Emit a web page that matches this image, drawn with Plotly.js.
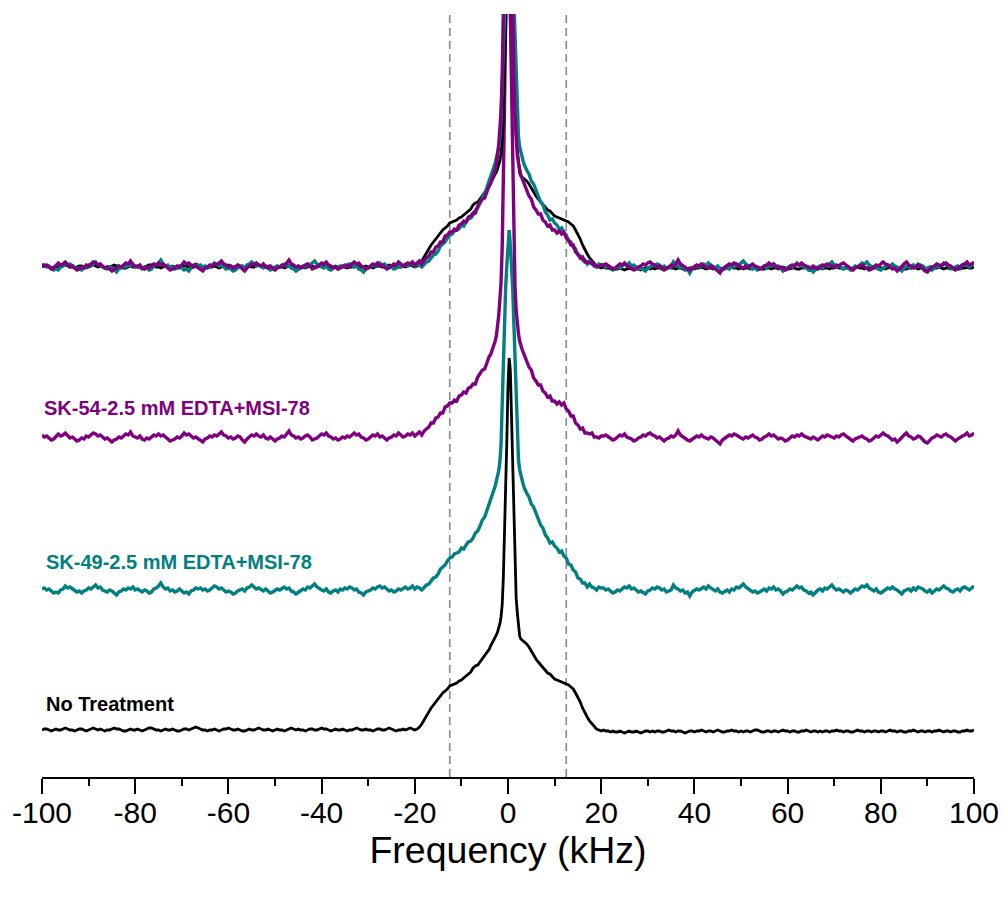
<!DOCTYPE html>
<html>
<head>
<meta charset="utf-8">
<script src="https://cdn.plot.ly/plotly-3.0.1.min.js"></script>
<style>
html,body{margin:0;padding:0;background:#fff;}
#chart{width:1004px;height:897px;}
</style>
</head>
<body>
<div id="chart"></div>
<script>
// ---- frequency grid (kHz) ----
var freqWingL = [
-100,-99.5,-99,-98.5,-98,-97.5,-97,-96.5,-96,-95.5,-95,-94.5,-94,-93.5,-93,-92.5,-92,-91.5,-91,-90.5,
-90,-89.5,-89,-88.5,-88,-87.5,-87,-86.5,-86,-85.5,-85,-84.5,-84,-83.5,-83,-82.5,-82,-81.5,-81,-80.5,
-80,-79.5,-79,-78.5,-78,-77.5,-77,-76.5,-76,-75.5,-75,-74.5,-74,-73.5,-73,-72.5,-72,-71.5,-71,-70.5,
-70,-69.5,-69,-68.5,-68,-67.5,-67,-66.5,-66,-65.5,-65,-64.5,-64,-63.5,-63,-62.5,-62,-61.5,-61,-60.5,
-60,-59.5,-59,-58.5,-58,-57.5,-57,-56.5,-56,-55.5,-55,-54.5,-54,-53.5,-53,-52.5,-52,-51.5,-51,-50.5,
-50,-49.5,-49,-48.5,-48,-47.5,-47,-46.5,-46,-45.5,-45,-44.5,-44,-43.5,-43,-42.5,-42,-41.5,-41,-40.5,
-40,-39.5,-39,-38.5,-38,-37.5,-37,-36.5,-36,-35.5,-35,-34.5,-34,-33.5,-33,-32.5,-32,-31.5,-31,-30.5,
-30,-29.5,-29,-28.5,-28,-27.5,-27,-26.5,-26,-25.5,-25,-24.5,-24,-23.5,-23,-22.5,-22,-21.5,-21,-20.5];
var freqShoulderL = [-20,-19.5,-19,-18.5,-18,-17.5,-17,-16.5,-16,-15.5,-15,-14.5,-14,-13.5,-13,-12.5,-12,-11.5,-11,-10.5,-10,-9.5,-9,-8.5,-8,-7.5,-7,-6.5,-6,-5.5,-5,-4.5,-4];
var freqCenter = [-3.75,-3.5,-3.25,-3,-2.75,-2.5,-2.25,-2,-1.75,-1.5,-1.25,-1,-0.75,-0.5,-0.25,0,0.25,0.5,0.75,1,1.25,1.5,1.75,2,2.25,2.5,2.75,3,3.25,3.5,3.75];
var freqShoulderR = [4,4.5,5,5.5,6,6.5,7,7.5,8,8.5,9,9.5,10,10.5,11,11.5,12,12.5,13,13.5,14,14.5,15,15.5,16,16.5,17,17.5,18,18.5,19,19.5,20];
var freqWingR = [
20.5,21,21.5,22,22.5,23,23.5,24,24.5,25,25.5,26,26.5,27,27.5,28,28.5,29,29.5,30,
30.5,31,31.5,32,32.5,33,33.5,34,34.5,35,35.5,36,36.5,37,37.5,38,38.5,39,39.5,40,
40.5,41,41.5,42,42.5,43,43.5,44,44.5,45,45.5,46,46.5,47,47.5,48,48.5,49,49.5,50,
50.5,51,51.5,52,52.5,53,53.5,54,54.5,55,55.5,56,56.5,57,57.5,58,58.5,59,59.5,60,
60.5,61,61.5,62,62.5,63,63.5,64,64.5,65,65.5,66,66.5,67,67.5,68,68.5,69,69.5,70,
70.5,71,71.5,72,72.5,73,73.5,74,74.5,75,75.5,76,76.5,77,77.5,78,78.5,79,79.5,80,
80.5,81,81.5,82,82.5,83,83.5,84,84.5,85,85.5,86,86.5,87,87.5,88,88.5,89,89.5,90,
90.5,91,91.5,92,92.5,93,93.5,94,94.5,95,95.5,96,96.5,97,97.5,98,98.5,99,99.5,100];

// ---- No Treatment (black) intensities ----
var noTreatWingL = [
0,1,1,0,-1,0,1,0,0,1,2,1,0,0,-1,0,1,1,0,-1,
0,1,2,1,0,1,0,-1,0,0,1,2,1,1,0,-1,-1,0,1,0,
0,1,0,-1,0,1,2,2,1,0,0,-1,0,1,0,0,1,0,-1,-1,
0,1,1,0,1,2,3,2,1,0,0,-1,0,0,1,0,-1,0,1,1,
2,1,0,0,1,0,-1,-1,0,1,0,0,1,2,1,0,0,1,0,-1,
0,1,0,0,-1,0,1,2,1,0,1,0,0,-1,0,1,1,0,0,1,
2,1,1,0,-1,0,1,0,0,1,0,-1,0,0,1,2,1,0,0,1,
0,0,-1,0,1,1,0,0,1,2,1,0,-1,0,0,1,0,1,2,1];
var noTreatShoulderL = [0,1,3,6,10,15,19,22,25,28,31,35,37,39,41,44,45,46,47,49,50,52,54,56,58,62,64,65,68,72,75,78,81];
var noTreatCenter = [84,86,88,90,92,95,98,102,106,113,125,152,192,240,290,345,372,360,310,258,208,165,132,117,105,94,91,90,89,88,87];
var noTreatShoulderR = [86,83,79,74,71,68,65,63,60,57,56,53,51,50,49,48,47,46,45,43,41,37,33,28,22,17,13,9,6,3,1,0,-1];
var noTreatWingR = [
0,-1,-1,-2,-1,-2,-2,-1,-2,-3,-2,-1,-2,-2,-1,-2,-3,-2,-1,-1,
-2,-1,-2,-1,-1,-2,-2,-1,0,-1,-1,-2,-1,-1,-2,-3,-2,-1,-1,-2,
-1,-1,0,-1,-2,-1,-1,-2,-1,0,-1,-2,-2,-1,-1,0,-1,-1,-2,-1,
-2,-1,-1,-2,-1,0,0,-1,-2,-2,-1,-1,-2,-1,-1,-2,-1,0,-1,-1,
-2,-1,-1,-2,-2,-1,-1,0,-1,-2,-1,-1,-2,-1,-2,-1,-1,-2,-1,-1,
0,-1,-1,-2,-1,-1,-2,-2,-1,0,-1,-1,-2,-1,-1,-2,-1,-1,-2,-1,
-1,-2,-1,0,-1,-1,-2,-1,-1,-2,-2,-1,-1,0,-1,-2,-1,-1,-2,-1,
-1,-2,-1,-1,0,-1,-2,-1,-1,-2,-1,-1,-2,-2,-1,-1,0,-1,-1,0];

// ---- SK-49 (teal) intensities ----
var sk49WingL = [
1,2,0,1,-1,-3,-2,-3,0,1,4,2,3,1,0,-2,-1,-3,-1,0,
2,1,3,5,2,3,0,-1,-2,0,-1,-3,-5,-2,-1,1,0,2,1,3,
0,1,-1,-2,0,-1,-3,-2,1,2,4,7,3,1,2,-1,0,-2,-1,1,
-1,-3,-2,-4,-1,0,2,1,2,0,1,-1,0,2,4,3,1,2,0,-2,
-1,-2,-4,-3,-1,0,1,-1,2,3,5,3,1,2,0,-1,1,-1,-3,-2,
0,1,0,2,3,1,2,-1,-2,-4,-2,-1,1,0,3,2,4,6,3,1,
0,-1,1,-2,-3,-1,0,-2,1,0,2,1,3,2,0,1,-2,-3,-5,-2,
-1,0,2,1,3,4,2,3,1,-1,0,-2,-1,1,0,2,3,1,2,4];
var sk49ShoulderL = [1,3,2,0,3,5,6,9,12,13,16,21,23,25,29,32,33,36,37,38,42,41,45,48,49,52,57,59,64,70,73,80,86];
var sk49Center = [90,93,96,99,104,109,113,119,128,145,185,228,268,303,325,345,360,345,325,303,268,228,185,150,130,120,114,110,106,102,99];
var sk49ShoulderR = [97,93,86,83,77,73,65,62,55,52,47,48,44,42,38,39,34,32,26,25,20,18,12,11,7,7,3,6,3,2,0,3,2];
var sk49WingR = [
2,0,1,-1,-3,-2,0,-1,1,3,2,4,1,2,0,-2,-1,-3,-4,-1,
0,2,1,3,2,0,1,-2,-1,0,5,2,1,-1,0,-3,-2,-6,-2,0,
1,0,2,3,1,4,2,0,-1,1,-2,-3,-1,0,-2,1,0,3,2,4,
6,3,1,0,-2,-1,-3,-2,0,1,-1,2,1,3,0,1,-1,-4,-2,-1,
1,0,2,4,2,3,0,-1,-3,-2,-5,-2,0,1,-1,2,1,3,5,2,
0,1,-1,-2,0,-1,-3,-1,1,0,2,4,3,5,2,0,-1,1,-2,-3,
-1,0,2,1,3,1,0,-2,-4,-1,0,1,-1,2,0,3,2,1,-1,-2,
0,-3,-1,1,0,2,4,2,1,-1,-2,0,1,-1,2,3,1,0,2,4];

// ---- SK-54 (purple) intensities ----
var sk54WingL = [
3,1,2,0,-2,-1,1,4,2,3,5,2,0,1,-1,-3,-2,0,-1,2,
1,3,5,4,2,3,1,-1,0,-2,-4,-2,-1,1,0,2,4,3,6,2,
1,0,2,-1,-2,0,-1,1,3,2,4,2,3,1,-1,-3,-2,-1,1,0,
2,5,3,4,2,0,1,-1,-3,-4,-1,0,2,1,3,2,4,6,3,2,
0,1,-1,0,2,1,-2,-4,-1,1,3,2,4,2,1,3,0,-1,1,-1,
-3,-1,0,2,1,4,7,3,2,0,1,-1,0,2,3,1,-2,-1,0,2,
4,3,5,2,1,-1,0,-2,-1,1,0,2,1,3,5,3,4,1,0,-2,
-1,1,3,2,4,1,2,0,-2,0,1,3,2,5,3,1,2,4,3,5];
var sk54ShoulderL = [2,4,6,3,7,9,11,15,15,20,21,25,25,31,32,35,35,38,37,42,43,46,45,50,51,54,54,61,64,68,69,77,82];
var sk54Center = [83,86,89,93,97,102,110,122,138,155,190,250,330,420,490,520,490,420,330,250,190,152,128,112,104,97,92,89,86,83,80];
var sk54ShoulderR = [78,71,68,60,57,53,53,47,45,41,42,37,37,34,36,33,35,29,27,22,22,15,13,9,10,5,5,4,5,1,1,0,2];
var sk54WingR = [
2,3,1,0,-2,-1,1,3,2,4,1,0,-1,-3,-2,0,1,3,2,4,
5,3,2,0,1,-1,-3,-1,0,2,1,3,7,3,1,0,-2,-3,-1,0,
2,1,3,1,0,-1,1,0,-2,-4,-6,-2,0,1,3,2,4,3,1,0,
-1,1,0,2,3,1,0,-2,-1,1,2,4,2,3,1,-1,0,-1,-3,-2,
0,2,1,3,2,4,2,1,0,-1,1,-1,-2,0,2,1,3,2,1,0,
2,1,3,4,2,0,-1,-3,-1,0,1,2,0,-1,-3,-2,0,2,1,3,
5,3,2,0,-2,-1,-4,-2,1,3,5,2,1,-1,0,2,1,-2,-4,-5,
-2,0,1,3,2,1,3,4,2,1,-1,-3,-1,1,2,3,5,2,3,5];

// ---- stacking offsets (plot units) ----
var offsetNoTreat = 47, offsetSK49 = 187, offsetSK54 = 339, offsetOverlay = 510;
var dashPositions = [-12.5, 12.5];
var tickVals = [-100,-80,-60,-40,-20,0,20,40,60,80,100];
var tickText = ['-100','-80','-60','-40','-20','0','20','40','60','80','100'];
var labels = ['No Treatment','SK-49-2.5 mM EDTA+MSI-78','SK-54-2.5 mM EDTA+MSI-78'];
var colors = ['#000000','#008080','#800080'];

var freq = [].concat(freqWingL, freqShoulderL, freqCenter, freqShoulderR, freqWingR);
var spectra = [
  [].concat(noTreatWingL, noTreatShoulderL, noTreatCenter, noTreatShoulderR, noTreatWingR),
  [].concat(sk49WingL, sk49ShoulderL, sk49Center, sk49ShoulderR, sk49WingR),
  [].concat(sk54WingL, sk54ShoulderL, sk54Center, sk54ShoulderR, sk54WingR)
];
var offsets = [offsetNoTreat, offsetSK49, offsetSK54];
var widths = [2.8, 3.4, 3.4];

function shifted(arr, off){ return arr.map(function(v){ return v + off; }); }

var traces = [];
for (var i = 0; i < 3; i++) {
  traces.push({x: freq, y: shifted(spectra[i], offsets[i]), type: 'scatter', mode: 'lines',
    line: {color: colors[i], width: widths[i]}, name: labels[i], hoverinfo: 'skip'});
}
for (var j = 0; j < 3; j++) {
  traces.push({x: freq, y: shifted(spectra[j], offsetOverlay), type: 'scatter', mode: 'lines',
    line: {color: colors[j], width: widths[j]}, name: labels[j] + ' (overlay)', hoverinfo: 'skip'});
}

var shapes = dashPositions.map(function(xv){
  return {type: 'line', xref: 'x', yref: 'paper', x0: xv, x1: xv, y0: 0, y1: 1,
    line: {color: '#8a8a8a', width: 1.6, dash: '8px,5px'}, layer: 'below'};
});

var annFont = {family: 'Liberation Sans, Arial, sans-serif', size: 20, weight: 'bold'};
var annotations = [
  {text: '<b>' + labels[2] + '</b>', x: -100, y: 369, xref: 'x', yref: 'y', xanchor: 'left', yanchor: 'middle', showarrow: false, font: Object.assign({}, annFont, {color: colors[2]})},
  {text: '<b>' + labels[1] + '</b>', x: -99.5, y: 215, xref: 'x', yref: 'y', xanchor: 'left', yanchor: 'middle', showarrow: false, font: Object.assign({}, annFont, {color: colors[1]})},
  {text: '<b>' + labels[0] + '</b>', x: -99.5, y: 73, xref: 'x', yref: 'y', xanchor: 'left', yanchor: 'middle', showarrow: false, font: Object.assign({}, annFont, {color: colors[0]})}
];

var layout = {
  width: 1004, height: 897,
  margin: {l: 42, r: 30, t: 14, b: 120},
  paper_bgcolor: '#fff', plot_bgcolor: '#fff',
  showlegend: false,
  xaxis: {
    range: [-100, 100], showgrid: false, zeroline: false,
    showline: true, linecolor: '#000', linewidth: 2,
    ticks: 'outside', ticklen: 15, tickwidth: 2, tickcolor: '#000',
    tickvals: tickVals, ticktext: tickText, ticklabelstandoff: -7,
    tickfont: {family: 'Liberation Sans, Arial, sans-serif', size: 30, color: '#000'},
    minor: {dtick: 10, tick0: 0, ticks: 'outside', ticklen: 7, tickwidth: 2, tickcolor: '#000', showgrid: false},
    title: {text: 'Frequency (kHz)', font: {family: 'Liberation Sans, Arial, sans-serif', size: 37.5, color: '#000'}, standoff: 7}
  },
  yaxis: {range: [0, 763], visible: false, showgrid: false, zeroline: false, fixedrange: true},
  shapes: shapes,
  annotations: annotations
};

Plotly.newPlot('chart', traces, layout, {staticPlot: true, displayModeBar: false});
</script>
</body>
</html>
